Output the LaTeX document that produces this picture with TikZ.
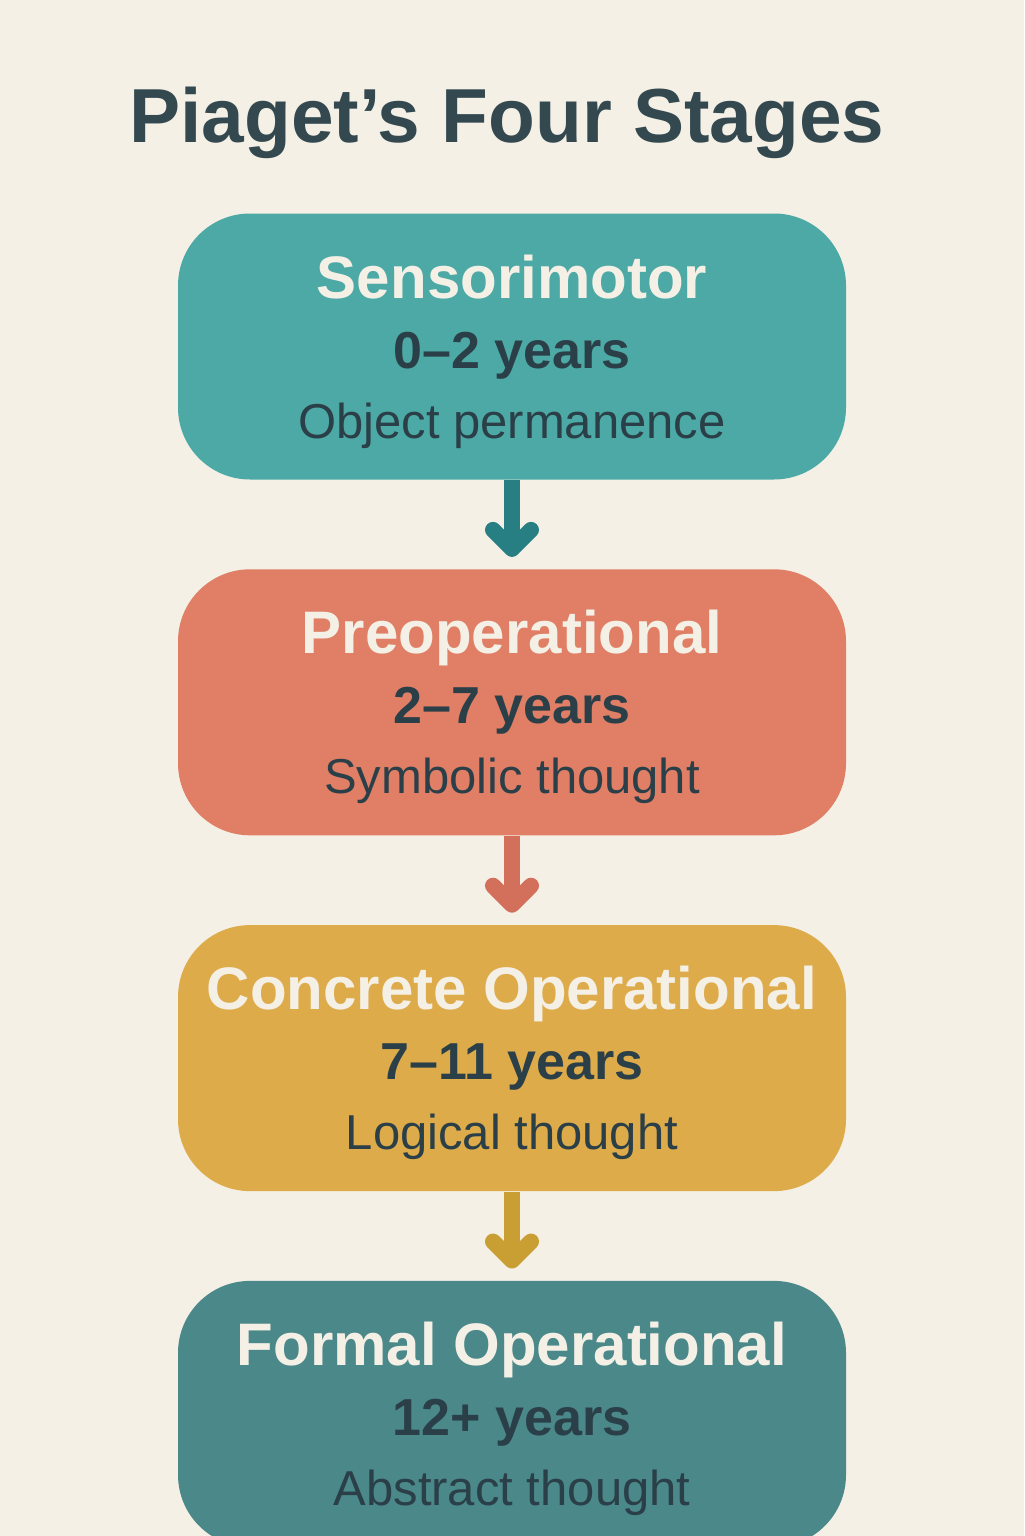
\documentclass[tikz,border=0pt]{standalone}
\usepackage{fontspec}
\setmainfont{Liberation Sans}
\usepackage{tikz}
\usetikzlibrary{positioning, arrows.meta}

\definecolor{cream}{HTML}{F4F0E6}
\definecolor{ink}{HTML}{2A3F48}
\definecolor{headink}{HTML}{34494F}
\definecolor{sensfill}{HTML}{4DA9A5}
\definecolor{sensarrow}{HTML}{277F83}
\definecolor{prefill}{HTML}{E07F66}
\definecolor{prearrow}{HTML}{D3705B}
\definecolor{concfill}{HTML}{DEAB4B}
\definecolor{concarrow}{HTML}{C99E32}
\definecolor{formfill}{HTML}{4A888A}

\newcommand{\namefont}{\color{cream}\fontsize{30}{35}\selectfont\bfseries}
\newcommand{\yearfont}{\fontsize{26}{35}\selectfont\bfseries}
\newcommand{\descfont}{\fontsize{24.5}{35}\selectfont}

\tikzstyle{stage} = [rectangle, rounded corners=36pt, minimum width=334pt,
                 minimum height=133pt, inner sep=0pt, align=center, text=ink,
                 font=\fontsize{26}{35}\selectfont, text height=91.5pt, text depth=0pt]
\tikzset{
	heading/.style={font=\fontsize{38.3}{44}\selectfont\bfseries, text=headink},
	flow/.style={line width=8pt, draw=#1,
		-{Straight Barb[length=9.5pt, width=19pt, round]}, shorten >=6pt},
}

\begin{document}
\begin{tikzpicture}[x=0.5pt, y=-0.5pt, node distance=44.5pt]

\useasboundingbox (0,0) rectangle (1024,1536);
\clip (0,0) rectangle (1024,1536);
\fill[cream] (0,0) rectangle (1024,1536);

\node [heading, anchor=base] (title) at (507,142) {Piaget’s Four Stages};

% the four stages
\node [stage, fill=sensfill] (sens) at (512,346.5)
	{\namefont Sensorimotor\\ \yearfont 0–2 years\\ \descfont Object permanence};
\node [stage, fill=prefill, below=of sens] (preop)
	{\namefont Preoperational\\ \yearfont 2–7 years\\ \descfont Symbolic thought};
\node [stage, fill=concfill, below=of preop] (conc)
	{\namefont Concrete Operational\\ \yearfont 7–11 years\\ \descfont Logical thought};
\node [stage, fill=formfill, below=of conc] (formal)
	{\namefont Formal Operational\\ \yearfont 12+ years\\ \descfont Abstract thought};

% arrows
\draw [flow=sensarrow] (sens.south) -- (preop.north);
\draw [flow=prearrow] (preop.south) -- (conc.north);
\draw [flow=concarrow] (conc.south) -- (formal.north);

\end{tikzpicture}
\end{document}
